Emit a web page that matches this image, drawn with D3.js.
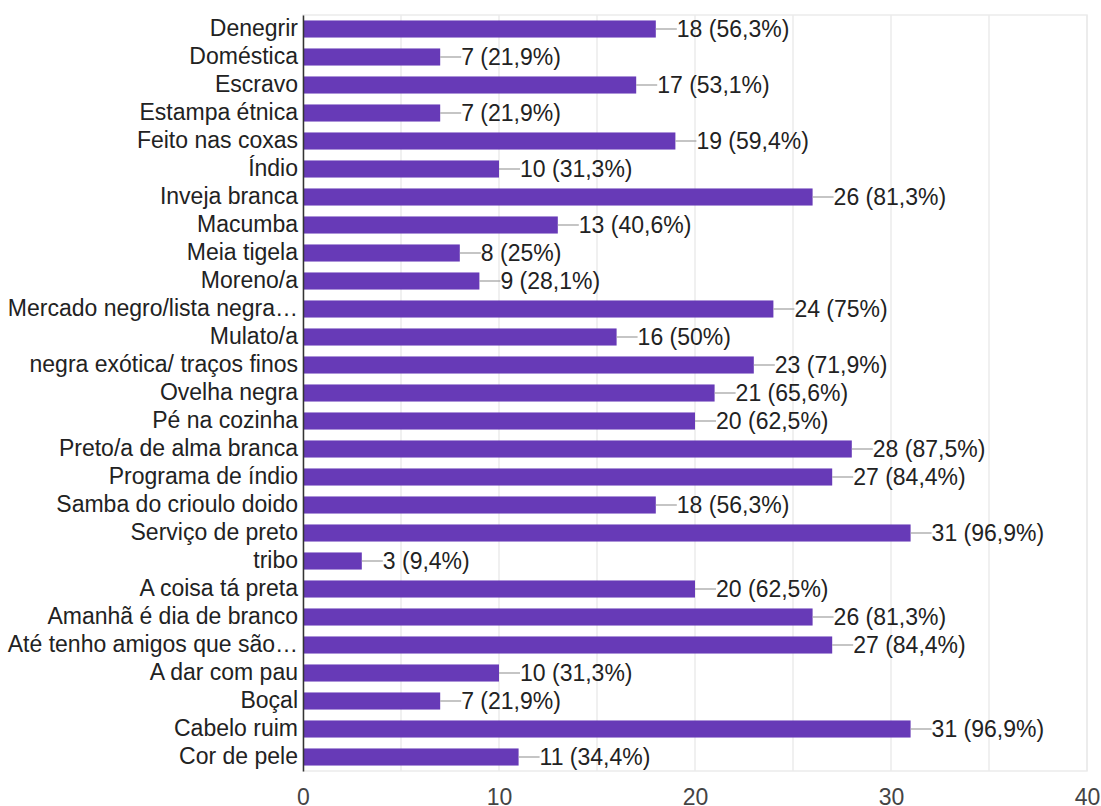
<!DOCTYPE html>
<html>
<head>
<meta charset="utf-8">
<script src="https://cdn.jsdelivr.net/npm/d3@7"></script>
<style>
  html, body { margin: 0; padding: 0; background: #fff; }
  svg { display: block; }
  text { font-family: "Liberation Sans", Arial, sans-serif; }
</style>
</head>
<body>
<svg id="chart" width="1101" height="806"></svg>
<script>
// Answers (count out of 32 respondents) and their percentage labels
const categories = [
  "Denegrir", "Doméstica", "Escravo", "Estampa étnica", "Feito nas coxas",
  "Índio", "Inveja branca", "Macumba", "Meia tigela", "Moreno/a",
  "Mercado negro/lista negra…", "Mulato/a", "negra exótica/ traços finos",
  "Ovelha negra", "Pé na cozinha", "Preto/a de alma branca",
  "Programa de índio", "Samba do crioulo doido", "Serviço de preto", "tribo",
  "A coisa tá preta", "Amanhã é dia de branco", "Até tenho amigos que são…",
  "A dar com pau", "Boçal", "Cabelo ruim", "Cor de pele"
];
const counts = [18, 7, 17, 7, 19, 10, 26, 13, 8, 9, 24, 16, 23, 21, 20, 28, 27, 18, 31, 3, 20, 26, 27, 10, 7, 31, 11];
const percents = ["56,3%", "21,9%", "53,1%", "21,9%", "59,4%", "31,3%", "81,3%", "40,6%", "25%", "28,1%",
  "75%", "50%", "71,9%", "65,6%", "62,5%", "87,5%", "84,4%", "56,3%", "96,9%", "9,4%",
  "62,5%", "81,3%", "84,4%", "31,3%", "21,9%", "96,9%", "34,4%"];
const tickValues = [0, 10, 20, 30, 40];
const gridValues = [5, 10, 15, 20, 25, 30, 35, 40];

const data = categories.map((c, i) => ({ name: c, count: counts[i], pct: percents[i] }));

const svg = d3.select("#chart");
const margin = { top: 15, right: 14, bottom: 35, left: 303 };
const W = 1101, H = 806;
const innerW = W - margin.left - margin.right;
const innerH = H - margin.top - margin.bottom;
const FONT = 23;

const x = d3.scaleLinear().domain([0, 40]).range([0, innerW]);
const y = d3.scaleBand().domain(categories).range([0, innerH]).paddingInner(0.39).paddingOuter(0.195);

const g = svg.append("g").attr("transform", `translate(${margin.left},${margin.top})`);

// frame and vertical gridlines
g.append("rect")
  .attr("x", 0).attr("y", 0).attr("width", innerW).attr("height", innerH)
  .attr("fill", "none").attr("stroke", "#ebebeb").attr("stroke-width", 1.5);
g.selectAll("line.grid").data(gridValues).join("line")
  .attr("class", "grid")
  .attr("x1", d => x(d)).attr("x2", d => x(d))
  .attr("y1", 0).attr("y2", innerH)
  .attr("stroke", "#ebebeb").attr("stroke-width", 1.5);

// bars
g.selectAll("rect.bar").data(data).join("rect")
  .attr("class", "bar")
  .attr("x", 0)
  .attr("y", d => y(d.name))
  .attr("width", d => x(d.count))
  .attr("height", y.bandwidth())
  .attr("fill", "#673ab7");

// leader lines and value labels
g.selectAll("line.lead").data(data).join("line")
  .attr("class", "lead")
  .attr("x1", d => x(d.count)).attr("x2", d => x(d.count) + 21)
  .attr("y1", d => y(d.name) + y.bandwidth() / 2)
  .attr("y2", d => y(d.name) + y.bandwidth() / 2)
  .attr("stroke", "#9e9e9e").attr("stroke-width", 1.2);
g.selectAll("text.val").data(data).join("text")
  .attr("class", "val")
  .attr("x", d => x(d.count) + 21)
  .attr("y", d => y(d.name) + y.bandwidth() / 2)
  .attr("dy", "0.36em")
  .attr("font-size", FONT)
  .attr("fill", "#222")
  .text(d => `${d.count} (${d.pct})`);

// category axis
const yAxis = g.append("g").call(d3.axisLeft(y).tickSize(0).tickPadding(5));
yAxis.select(".domain").attr("stroke", "#333").attr("stroke-width", 1.5);
yAxis.selectAll("text").attr("font-size", FONT).attr("fill", "#222")
  .attr("font-family", "'Liberation Sans', Arial, sans-serif");

// value axis labels
const xAxis = g.append("g").attr("transform", `translate(0,${innerH})`)
  .call(d3.axisBottom(x).tickValues(tickValues).tickSize(0).tickPadding(18));
xAxis.select(".domain").remove();
xAxis.selectAll("text").attr("font-size", FONT).attr("fill", "#444")
  .attr("font-family", "'Liberation Sans', Arial, sans-serif");
</script>
</body>
</html>
